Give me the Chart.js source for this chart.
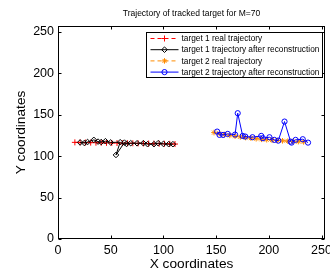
<!DOCTYPE html>
<html>
<head>
<meta charset="utf-8">
<script src="https://cdn.jsdelivr.net/npm/chart.js@4.4.0/dist/chart.umd.min.js"></script>
<style>
    html, body { margin: 0; padding: 0; background: #fff; overflow: hidden; }
</style>
</head>
<body>
<canvas id="trackChart" width="330" height="273"></canvas>
<script>
// Target 1 real trajectory
const t1RealX = [16, 21, 26, 31, 36, 41, 46, 51, 56, 61, 66, 71, 76, 81, 86, 91, 96, 101, 106, 111];
const t1RealY = [116.6, 116.5, 116.4, 116.3, 116.2, 116.1, 116.0, 115.9, 115.8, 115.7, 115.6, 115.5, 115.4, 115.3, 115.2, 115.1, 115.0, 114.9, 114.8, 114.6];
// Target 1 after reconstruction
const t1RecX = [21, 25, 28, 34, 38, 41, 45, 50, 59, 55, 63, 65, 69, 75, 81, 85, 91, 95, 100, 105, 109];
const t1RecY = [116.5, 115.8, 117, 119.6, 117.5, 117, 118, 116.5, 116.8, 101.4, 116.3, 114.7, 115.6, 115.5, 115.6, 114.4, 114.4, 115.6, 114.7, 114.4, 114.4];
// Target 2 real trajectory
const t2RealX = [148, 153, 158, 163, 168, 173, 178, 183, 188, 193, 198, 203, 208, 213, 218, 223, 228, 233];
const t2RealY = [128.4, 127.2, 126, 125, 124, 123.2, 122.4, 121.7, 121, 120.3, 119.8, 119.3, 118.9, 118.5, 118.1, 117.8, 117.5, 117.2];
// Target 2 after reconstruction
const t2RecX = [151, 153.2, 156.6, 161, 168, 170.5, 175.2, 177.7, 184.5, 192.8, 194.4, 200.6, 205.2, 209, 214.9, 220.7, 221.6, 225.4, 232.2, 237.2];
const t2RecY = [129.6, 125.6, 125.6, 126.8, 126, 151.8, 124.4, 123.6, 122.8, 124.4, 121.6, 122.8, 119.6, 118.7, 141.7, 117.5, 116.3, 119.6, 120.4, 116.3];

const seriesLabels = [
    'target 1 real trajectory',
    'target 1 trajectory after reconstruction',
    'target 2 real trajectory',
    'target 2 trajectory after reconstruction'
];
const xMin = 0, xMax = 253.3, yMin = 0, yMax = 257;
const tickStep = 50;

const fontFamily = '"Liberation Sans", Arial, Helvetica, sans-serif';
Chart.defaults.font.family = fontFamily;
Chart.defaults.color = '#000';

const toPoints = (xs, ys) => xs.map((x, i) => ({ x: x, y: ys[i] }));

// box around the axes plus inward ticks, matlab style
const frameBox = {
    id: 'frameBox',
    afterDatasetsDraw(chart) {
        const { ctx, chartArea: a, scales: { x, y } } = chart;
        const L = Math.round(a.left) + 0.5, R = Math.round(a.right) - 0.5;
        const T = Math.round(a.top) + 0.5, B = Math.round(a.bottom) - 0.5;
        ctx.save();
        ctx.strokeStyle = '#000';
        ctx.lineWidth = 1;
        ctx.strokeRect(L, T, R - L, B - T);
        ctx.beginPath();
        x.ticks.forEach(t => {
            const px = Math.round(x.getPixelForValue(t.value)) + 0.5;
            ctx.moveTo(px, B); ctx.lineTo(px, B - 3);
            ctx.moveTo(px, T); ctx.lineTo(px, T + 3);
        });
        y.ticks.forEach(t => {
            const py = Math.round(y.getPixelForValue(t.value)) + 0.5;
            ctx.moveTo(L, py); ctx.lineTo(L + 3, py);
            ctx.moveTo(R, py); ctx.lineTo(R - 3, py);
        });
        ctx.stroke();
        ctx.restore();
    }
};

// legend drawn inside the plot, upper right
const boxLegend = {
    id: 'boxLegend',
    afterDraw(chart) {
        const { ctx, chartArea: a } = chart;
        const bw = 176, bh = 45;
        const bx = Math.round(a.right - 3 - bw) + 0.5, by = Math.round(a.top + 6) + 0.5;
        ctx.save();
        ctx.fillStyle = '#fff';
        ctx.fillRect(bx, by, bw, bh);
        ctx.strokeStyle = '#000';
        ctx.lineWidth = 1;
        ctx.strokeRect(bx, by, bw, bh);
        ctx.font = '8.3px ' + fontFamily;
        ctx.textBaseline = 'middle';
        chart.data.datasets.forEach((ds, i) => {
            const cy = by + 6 + i * 11.2;
            const x0 = bx + 4, x1 = bx + 32;
            ctx.strokeStyle = ds.borderColor;
            ctx.lineWidth = ds.borderWidth;
            ctx.setLineDash(ds.borderDash || []);
            ctx.beginPath();
            ctx.moveTo(x0, cy); ctx.lineTo(x1, cy);
            ctx.stroke();
            ctx.setLineDash([]);
            ctx.fillStyle = 'rgba(0,0,0,0)';
            ctx.lineWidth = 1;
            Chart.helpers.drawPoint(ctx, { pointStyle: ds.pointStyle, radius: ds.pointRadius, borderWidth: 1, rotation: 0 }, (x0 + x1) / 2, cy);
            ctx.fillStyle = '#000';
            ctx.fillText(ds.label, x1 + 3, cy + 0.5);
        });
        ctx.restore();
    }
};

new Chart(document.getElementById('trackChart'), {
    type: 'scatter',
    data: {
        datasets: [
            {
                label: seriesLabels[0],
                data: toPoints(t1RealX, t1RealY),
                showLine: true,
                borderColor: '#ff0000',
                borderWidth: 1,
                borderDash: [4, 3],
                pointStyle: 'cross',
                pointRadius: 3,
                pointBorderWidth: 1,
                pointBorderColor: '#ff0000',
                order: 4
            },
            {
                label: seriesLabels[1],
                data: toPoints(t1RecX, t1RecY),
                showLine: true,
                borderColor: '#000000',
                borderWidth: 1,
                pointStyle: 'rectRot',
                pointRadius: 2.8,
                pointBorderWidth: 1,
                pointBorderColor: '#000000',
                pointBackgroundColor: 'rgba(0,0,0,0)',
                order: 3
            },
            {
                label: seriesLabels[2],
                data: toPoints(t2RealX, t2RealY),
                showLine: true,
                borderColor: '#ff8c00',
                borderWidth: 1,
                borderDash: [4, 3],
                pointStyle: 'star',
                pointRadius: 2.8,
                pointBorderWidth: 1,
                pointBorderColor: '#ff8c00',
                order: 2
            },
            {
                label: seriesLabels[3],
                data: toPoints(t2RecX, t2RecY),
                showLine: true,
                borderColor: '#0000ff',
                borderWidth: 1,
                pointStyle: 'circle',
                pointRadius: 2.6,
                pointBorderWidth: 1,
                pointBorderColor: '#0000ff',
                pointBackgroundColor: 'rgba(0,0,0,0)',
                order: 1
            }
        ]
    },
    options: {
        responsive: false,
        animation: false,
        devicePixelRatio: 1,
        layout: { padding: 0 },
        plugins: {
            legend: { display: false },
            tooltip: { enabled: false },
            title: {
                display: true,
                text: 'Trajectory of tracked target for M=70',
                fullSize: false,
                font: { size: 8.5, weight: 'normal' },
                color: '#000',
                padding: { top: 8.4, bottom: 7.4 }
            }
        },
        scales: {
            x: {
                type: 'linear',
                min: xMin,
                max: xMax,
                grid: { display: false, drawTicks: false },
                border: { display: false },
                ticks: {
                    stepSize: tickStep,
                    includeBounds: false,
                    maxRotation: 0,
                    padding: 4,
                    font: { size: 12.5 },
                    color: '#000'
                },
                title: {
                    display: true,
                    text: 'X coordinates',
                    font: { size: 13.7 },
                    color: '#000',
                    padding: { top: 0, bottom: 0.5 }
                },
                afterFit(scale) {
                    scale.height = 34;
                    scale.paddingLeft = 0;
                    scale.paddingRight = 0;
                }
            },
            y: {
                type: 'linear',
                min: yMin,
                max: yMax,
                grid: { display: false, drawTicks: false },
                border: { display: false },
                ticks: {
                    stepSize: tickStep,
                    includeBounds: false,
                    padding: 4,
                    font: { size: 12.5 },
                    color: '#000'
                },
                title: {
                    display: true,
                    text: 'Y coordinates',
                    font: { size: 13.7 },
                    color: '#000',
                    padding: { top: 13, bottom: 0 }
                },
                afterFit(scale) {
                    scale.width = 58;
                    scale.paddingTop = 0;
                    scale.paddingBottom = 0;
                }
            }
        }
    },
    plugins: [frameBox, boxLegend]
});
</script>
</body>
</html>
